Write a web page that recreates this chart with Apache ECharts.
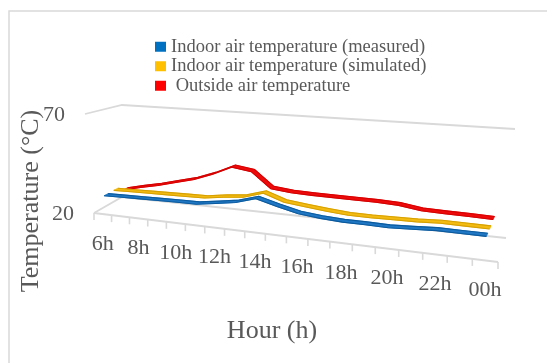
<!DOCTYPE html>
<html>
<head>
<meta charset="utf-8">
<script src="https://cdn.jsdelivr.net/npm/echarts@6/dist/echarts.min.js"></script>
<style>html,body{margin:0;padding:0;background:#fff}#c{width:547px;height:363px}</style>
</head>
<body>
<div id="c"></div>
<script>
// ---- data ----
const hours = ['6h','7h','8h','9h','10h','11h','12h','13h','14h','15h','16h','17h','18h','19h','20h','21h','22h','23h','00h'];
const measured  = [28.5,28.7,28.9,29.1,29.3,29.4,30.8,32.3,35.2,32.5,30.2,29.2,28.6,28.6,28.4,28.9,29.5,29.4,29.4];
const simulated = [28.7,28.9,29.1,29.3,29.5,29.7,31.1,32.1,35.1,31.7,30.6,29.6,28.8,28.7,28.9,29.1,29.6,29.5,29.4];
const outside   = [26.3,28.5,30.5,33.0,35.4,39.0,43.5,42.1,34.5,33.5,33.2,33.1,33.0,32.9,32.5,31.0,30.7,30.6,30.3];
const yTicks = [20, 70];
const names = ['Indoor air temperature (measured)','Indoor air temperature (simulated)',' Outside air temperature'];

// ---- 3D look: perspective projection of the normalised cartesian space ----
const K = 1.222;           // horizontal foreshortening
const DELTA = 0.07;        // ribbon half depth
const CORNERS = {F0b:[94,213],F0t:[85,114],F1b:[498,262],F1t:[500,145],
                 B0b:[122,197],B0t:[122,105],B1b:[506,238],B1t:[515,129]};
function lerp(a,b,t){return [a[0]+(b[0]-a[0])*t, a[1]+(b[1]-a[1])*t];}
function project(u,v,d){
  const up = u/(u + K*(1-u));
  const c = CORNERS;
  const fb = lerp(c.F0b,c.F1b,up), ft = lerp(c.F0t,c.F1t,up);
  const bb = lerp(c.B0b,c.B1b,up), bt = lerp(c.B0t,c.B1t,up);
  return lerp(lerp(fb,bb,d), lerp(ft,bt,d), v);
}
function norm(cs,p){return [(p[0]-cs.x)/cs.width, (cs.y+cs.height-p[1])/cs.height];}

const TXT = '#595959', GRID = '#d9d9d9', FONT = '"Liberation Serif", "Times New Roman", serif';

function ribbon(depth, fill, edge){
  return function(params, api){
    if (params.dataIndex !== 0) return null;
    const cs = params.coordSys, n = params.dataInsideLength;
    const front = [], back = [];
    for (let j=0;j<n;j++){
      const p = api.coord([api.value(0,j), api.value(1,j)]);
      const uv = norm(cs,p);
      front.push(project(uv[0],uv[1],depth-DELTA));
      back.push(project(uv[0],uv[1],depth+DELTA));
    }
    return {type:'group', children:[
      {type:'polygon', shape:{points: front.concat(back.slice().reverse())}, style:{fill:fill, stroke:fill, lineWidth:0.8}},
      {type:'polyline', shape:{points: back}, style:{fill:null, stroke:edge, lineWidth:1.1}},
      {type:'polyline', shape:{points: front}, style:{fill:null, stroke:edge, lineWidth:1.1}}
    ]};
  };
}

const chart = echarts.init(document.getElementById('c'));
chart.setOption({
  animation:false,
  backgroundColor:'#fff',
  grid:{left:94, top:114, width:404, height:99},
  xAxis:{type:'category', data:hours, show:false, boundaryGap:true},
  yAxis:{type:'value', min:20, max:70, interval:50, show:false},
  legend:{orient:'vertical', left:150, top:32, itemWidth:11, itemHeight:10, itemGap:0, icon:'rect',
    data:names, textStyle:{fontFamily:FONT, fontSize:18.5, color:TXT, lineHeight:19.5}},
  graphic:[
    {type:'rect', silent:true, shape:{x:9, y:11, width:600, height:400}, style:{fill:'none', stroke:GRID, lineWidth:1.5}},
    {type:'text', x:31, y:201, rotation:Math.PI/2, style:{text:'Temperature (°C)', fontFamily:FONT, fontSize:26, fill:TXT, align:'center', verticalAlign:'middle'}},
    {type:'text', x:272, y:331, style:{text:'Hour (h)', fontFamily:FONT, fontSize:26, fill:TXT, align:'center', verticalAlign:'middle'}}
  ],
  series:[
    {type:'custom', name:'walls', silent:true, data: yTicks.map(v=>[hours[0], v]),
      renderItem(params, api){
        const cs = params.coordSys;
        const p = api.coord([api.value(0), api.value(1)]);
        const v = norm(cs,p)[1];
        const st = {stroke:GRID, lineWidth:1.8, fill:null};
        const ch = [];
        const a = project(0,v,0), b = project(0,v,1), c = project(1,v,1);
        ch.push({type:'polyline', shape:{points:[a,b,c]}, style:st});
        if (params.dataIndex === 0){
          ch.push({type:'line', shape:{x1:a[0], y1:a[1], x2:project(1,v,0)[0], y2:project(1,v,0)[1]}, style:st});
        }
        ch.push({type:'text', x:a[0]-20, y:a[1]+1.5, style:{text:String(yTicks[params.dataIndex]), fontFamily:FONT, fontSize:22, fill:TXT, align:'right', verticalAlign:'middle'}});
        return {type:'group', children:ch};
      }},
    {type:'custom', name:'hours', silent:true, data: hours.map(h=>[h, yTicks[0]]),
      renderItem(params, api){
        const cs = params.coordSys, i = params.dataIndex;
        const p = api.coord([api.value(0), api.value(1)]);
        const bw = api.size([1,0])[0]/cs.width;
        const uv = norm(cs,p);
        const ch = [];
        const tick = u => { const a = project(u,uv[1],0);
          ch.push({type:'line', shape:{x1:a[0], y1:a[1], x2:a[0], y2:a[1]+7}, style:{stroke:GRID, lineWidth:1.6}}); };
        tick(uv[0]-bw/2);
        if (i === params.dataInsideLength-1) tick(uv[0]+bw/2);
        if (i % 2 === 0){
          const c = project(uv[0],uv[1],0);
          ch.push({type:'text', x:c[0], y:c[1]+30, style:{text:hours[i], fontFamily:FONT, fontSize:22, fill:TXT, align:'center', verticalAlign:'middle'}});
        }
        return {type:'group', children:ch};
      }},
    {type:'custom', name:names[2], itemStyle:{color:'#FF0000'}, data: hours.map((h,i)=>[h, outside[i]]),
      renderItem: ribbon(5/6, '#ee0a0a', '#d40000')},
    {type:'custom', name:names[1], itemStyle:{color:'#FFC000'}, data: hours.map((h,i)=>[h, simulated[i]]),
      renderItem: ribbon(1/2, '#f3bb12', '#d6a000')},
    {type:'custom', name:names[0], itemStyle:{color:'#0070C0'}, data: hours.map((h,i)=>[h, measured[i]]),
      renderItem: ribbon(1/6, '#2078c4', '#0b5a9e')}
  ]
});
</script>
</body>
</html>
